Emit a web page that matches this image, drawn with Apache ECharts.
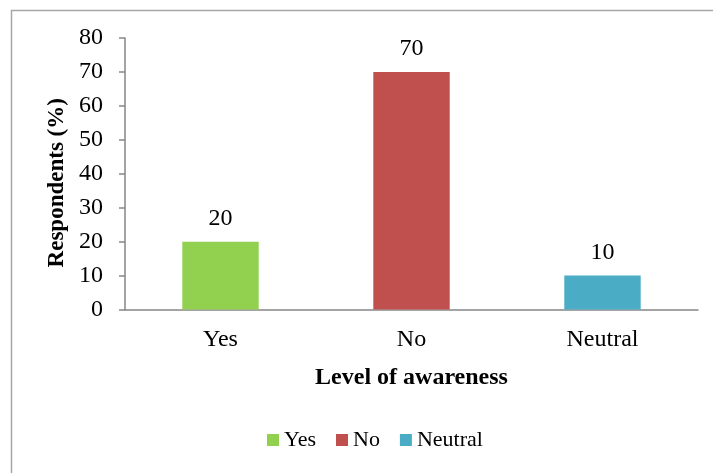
<!DOCTYPE html>
<html><head><meta charset="utf-8">
<script src="https://cdn.jsdelivr.net/npm/echarts@6/dist/echarts.min.js"></script>
<style>html,body{margin:0;padding:0;background:#fff}#c{width:713px;height:473px}</style>
</head><body><div id="c"></div>
<script>
const categories = ['Yes', 'No', 'Neutral'];
const values = [20, 70, 10];
const colors = ['#92D050', '#C0504D', '#4BACC6'];
const yTicks = { min: 0, max: 80, interval: 10 };
const xTitle = 'Level of awareness';
const yTitle = 'Respondents (%)';

const font = 'Liberation Serif, Times New Roman, serif';
const series = categories.map((c, i) => ({
  name: c,
  type: 'bar',
  barWidth: '40%',
  barGap: '-100%',
  itemStyle: { color: colors[i] },
  label: { show: true, position: 'top', distance: 11, color: '#000', fontFamily: font, fontSize: 24 },
  data: categories.map((_, j) => j === i ? values[i] : '-')
}));

const chart = echarts.init(document.getElementById('c'));
chart.setOption({
  animation: false,
  backgroundColor: '#fff',
  textStyle: { fontFamily: font },
  graphic: [{ type: 'rect', shape: { x: 11.5, y: 10.5, width: 720, height: 480 }, style: { fill: 'none', stroke: '#A6A6A6', lineWidth: 1.5 }, silent: true }],
  grid: { left: 125, right: 15, top: 38, bottom: 163.5 },
  legend: {
    top: 424, left: 262, itemWidth: 12, itemHeight: 12, itemGap: 20,
    icon: 'rect',
    textStyle: { fontFamily: font, fontSize: 22, color: '#000' },
    data: categories
  },
  xAxis: {
    type: 'category', data: categories,
    name: xTitle, nameLocation: 'middle', nameGap: 56,
    nameTextStyle: { fontFamily: font, fontSize: 24, fontWeight: 'bold', color: '#000' },
    axisLine: { lineStyle: { color: '#868686', width: 1.5 } },
    axisTick: { show: false },
    axisLabel: { color: '#000', fontFamily: font, fontSize: 24, margin: 18 }
  },
  yAxis: {
    type: 'value', min: yTicks.min, max: yTicks.max, interval: yTicks.interval,
    name: yTitle, nameLocation: 'middle', nameGap: 55,
    nameTextStyle: { fontFamily: font, fontSize: 23, fontWeight: 'bold', color: '#000', padding: [0, 18, 0, 0] },
    axisLine: { show: true, lineStyle: { color: '#868686', width: 1.5 } },
    axisTick: { show: true, length: 6, lineStyle: { color: '#868686', width: 1.5 } },
    splitLine: { show: false },
    axisLabel: { color: '#000', fontFamily: font, fontSize: 24, margin: 22 }
  },
  series: series
});
</script></body></html>
